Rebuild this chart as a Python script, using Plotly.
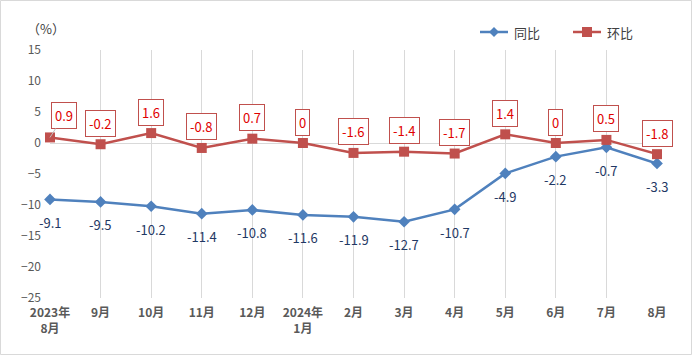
import plotly.graph_objects as go

categories = ["2023年<br>8月", "9月", "10月", "11月", "12月", "2024年<br>1月", "2月", "3月", "4月", "5月", "6月", "7月", "8月"]
yoy = [-9.1, -9.5, -10.2, -11.4, -10.8, -11.6, -11.9, -12.7, -10.7, -4.9, -2.2, -0.7, -3.3]
mom = [0.9, -0.2, 1.6, -0.8, 0.7, 0, -1.6, -1.4, -1.7, 1.4, 0, 0.5, -1.8]
y_ticks = [15, 10, 5, 0, -5, -10, -15, -20, -25]
series_names = ["同比", "环比"]

BLUE = "#4F81BD"
RED = "#C0504D"
FONT = "Noto Sans CJK SC, Noto Sans, sans-serif"

W, H = 692, 355
ML, MR, MT, MB = 50, 35, 50, 57
PW, PH = W - ML - MR, H - MT - MB


def px_x(p):
    return (p - ML) / PW


def px_y(p):
    return (H - MB - p) / PH


xs = list(range(len(categories)))

fig = go.Figure()
fig.add_trace(go.Scatter(
    x=xs, y=yoy, name=series_names[0], mode="lines+markers",
    line=dict(color=BLUE, width=2.5),
    marker=dict(symbol="diamond", size=9, color=BLUE),
    cliponaxis=False, showlegend=False,
))
fig.add_trace(go.Scatter(
    x=xs, y=mom, name=series_names[1], mode="lines+markers",
    line=dict(color=RED, width=2.5),
    marker=dict(symbol="square", size=10, color=RED),
    cliponaxis=False, showlegend=False,
))

annotations = []
for i, v in enumerate(yoy):
    annotations.append(dict(
        x=i, y=v, xref="x", yref="y", text=f"{v:g}", showarrow=False,
        yshift=-23, font=dict(family=FONT, size=13, color="#1F3864"),
    ))
for i, v in enumerate(mom):
    if i == 0:
        annotations.append(dict(
            x=i, y=v, xref="x", yref="y", text=f"{v:g}", showarrow=True,
            ax=14, ay=-22, arrowhead=0, arrowwidth=1, arrowcolor="#BFBFBF",
            font=dict(family=FONT, size=13, color="#E00000"),
            bordercolor=RED, borderwidth=1, borderpad=3, bgcolor="white",
        ))
    else:
        annotations.append(dict(
            x=i, y=v, xref="x", yref="y", text=f"{v:g}", showarrow=False,
            yshift=21, font=dict(family=FONT, size=13, color="#E00000"),
            bordercolor=RED, borderwidth=1, borderpad=3, bgcolor="white",
        ))
annotations.append(dict(
    x=px_x(46), y=px_y(28), xref="paper", yref="paper", text="（%）", showarrow=False,
    xanchor="center", yanchor="middle",
    font=dict(family=FONT, size=13, color="#404040"),
))

# manual legend
shapes = []
legend_items = [(480, BLUE, "diamond"), (573, RED, "square")]
for (lx, col, sym), name in zip(legend_items, series_names):
    ly = 32
    shapes.append(dict(type="line", xref="paper", yref="paper",
                       x0=px_x(lx), x1=px_x(lx + 28), y0=px_y(ly), y1=px_y(ly),
                       line=dict(color=col, width=2.5)))
    cx = lx + 14
    if sym == "diamond":
        path = (f"M {px_x(cx - 5)} {px_y(ly)} L {px_x(cx)} {px_y(ly - 5)} "
                f"L {px_x(cx + 5)} {px_y(ly)} L {px_x(cx)} {px_y(ly + 5)} Z")
        shapes.append(dict(type="path", xref="paper", yref="paper", path=path,
                           fillcolor=col, line=dict(color=col, width=0)))
    else:
        shapes.append(dict(type="rect", xref="paper", yref="paper",
                           x0=px_x(cx - 5), x1=px_x(cx + 5), y0=px_y(ly + 5), y1=px_y(ly - 5),
                           fillcolor=col, line=dict(color=col, width=0)))
    annotations.append(dict(
        x=px_x(lx + 32), y=px_y(ly), xref="paper", yref="paper", text=name,
        showarrow=False, xanchor="left", yanchor="middle",
        font=dict(family=FONT, size=13, color="#404040"),
    ))

shapes.append(dict(
    type="rect", xref="paper", yref="paper",
    x0=px_x(0.5), x1=px_x(W - 0.5), y0=px_y(H - 0.5), y1=px_y(0.5),
    line=dict(color="#D9D9D9", width=1), fillcolor="rgba(0,0,0,0)",
    layer="below",
))

fig.update_layout(
    width=W, height=H,
    margin=dict(l=ML, r=MR, t=MT, b=MB),
    paper_bgcolor="white", plot_bgcolor="white",
    font=dict(family=FONT, size=11, color="#595959"),
    showlegend=False,
    xaxis=dict(
        tickmode="array", tickvals=xs,
        ticktext=[f"<b>{c}</b>" for c in categories],
        range=[0, 12], showgrid=True, gridcolor="#D9D9D9", gridwidth=1,
        zeroline=False, showline=False, ticks="", ticklabelstandoff=6,
        tickfont=dict(family=FONT, size=12, color="#595959"),
        fixedrange=True, automargin=False,
    ),
    yaxis=dict(
        tickmode="array", tickvals=y_ticks, range=[-25, 15],
        showgrid=False, zeroline=True, zerolinecolor="#D9D9D9", zerolinewidth=1,
        showline=False, ticks="", ticklabelstandoff=8,
        tickfont=dict(family=FONT, size=12, color="#595959"),
        fixedrange=True, automargin=False,
    ),
    annotations=annotations,
    shapes=shapes,
)

fig.write_html(
    "out.html",
    config={"displayModeBar": False},
    post_script="document.body.style.margin='0';document.body.style.overflow='hidden';",
)
